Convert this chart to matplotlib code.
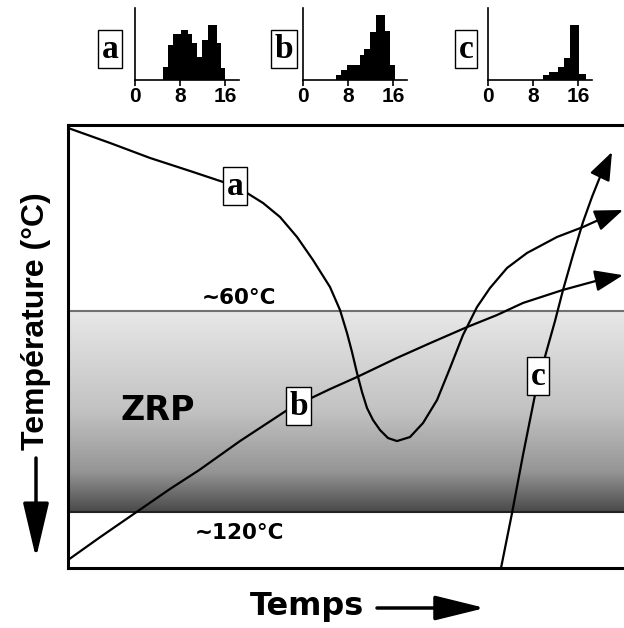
import numpy as np
import matplotlib.pyplot as plt
from matplotlib.colors import LinearSegmentedColormap
from matplotlib.patches import FancyArrowPatch

# histograms above the chart (bin edges and bar heights)
hist_a_edges = [5.0, 5.8, 6.8, 8.1, 9.5, 10.2, 11.1, 12.0, 13.0, 14.5, 15.3, 16.0]
hist_a_counts = [4.0, 10.5, 13.7, 15.0, 13.7, 11.0, 7.0, 12.0, 16.5, 11.0, 3.5]
hist_b_edges = [5.8, 6.8, 7.8, 10.1, 10.9, 12.0, 12.9, 14.5, 15.4, 16.3]
hist_b_counts = [1.5, 3.0, 4.5, 7.5, 9.2, 14.2, 19.5, 14.5, 4.5]
hist_c_edges = [9.8, 10.9, 12.4, 13.6, 14.5, 16.2, 17.5]
hist_c_counts = [1.5, 2.5, 4.0, 6.5, 16.5, 1.8]
hist_ticks = [0, 8, 16]

# temperature paths (time, temperature degC)
path_a_t = [0, 7.55, 14.75, 21.94, 27.88, 32.19, 35.07, 38.13, 41.19, 44.06, 47.12,
            48.92, 50.18, 51.08, 51.98, 52.88, 53.78, 54.86, 56.12, 57.55, 59.17,
            61.51, 63.85, 66.37, 68.71, 71.04, 73.56, 75.90, 78.96, 82.55, 87.95,
            92.63, 96.22, 99.82]
path_a_T = [5.37, 9.85, 14.33, 18.21, 21.49, 24.78, 27.76, 31.94, 37.91, 44.78, 52.84,
            59.70, 66.57, 72.24, 78.51, 84.18, 88.96, 92.54, 95.52, 97.91, 98.81,
            97.61, 93.43, 86.57, 77.01, 67.16, 58.81, 53.13, 47.16, 42.69, 37.91,
            34.93, 32.24, 29.85]
path_b_t = [0, 5.76, 12.05, 18.35, 23.56, 30.94, 39.39, 43.71, 47.12, 51.98, 59.17,
            65.11, 71.76, 77.16, 81.83, 89.03, 95.68, 99.82]
path_b_T = [134.3, 127.5, 120.3, 113.1, 107.5, 98.8, 89.6, 86.0, 83.3, 79.7, 74.0,
            69.6, 64.8, 61.2, 57.6, 53.7, 50.7, 49.3]
path_c_t = [77.88, 79.86, 81.83, 83.99, 85.97, 87.59, 89.03, 90.83, 92.63, 94.24,
            95.68, 97.84]
path_c_T = [136.7, 120.3, 102.99, 85.07, 72.54, 62.99, 53.73, 43.28, 33.43, 25.97,
            20.0, 12.54]

# label positions on the paths
label_names = ['a', 'b', 'c']
label_t = [30.0, 41.5, 84.5]
label_T = [22.7, 88.4, 79.4]

zone_top = 60
zone_bottom = 120

fig = plt.figure(figsize=(6.24, 6.28), dpi=100)
ax = fig.add_axes([0.109, 0.0955, 0.891, 0.7054])
ax.set_xlim(0, 100)
ax.set_ylim(136.7, 4.5)
ax.set_xticks([])
ax.set_yticks([])
ax.spines['right'].set_visible(False)
for s in ['left', 'top', 'bottom']:
    ax.spines[s].set_linewidth(2.2)

# shaded ZRP band
cmap = LinearSegmentedColormap.from_list('zrp', [(0, '#e8e8e8'), (0.5, '#c2c2c2'),
                                                 (0.8, '#959595'), (1.0, '#4a4a4a')])
grad = np.linspace(0, 1, 256).reshape(-1, 1)
ax.imshow(grad, extent=(0, 100, zone_bottom, zone_top), aspect='auto', cmap=cmap, zorder=0)
ax.axhline(zone_top, color='#707070', lw=1.5, zorder=1)
ax.axhline(zone_bottom, color='#222222', lw=1.5, zorder=1)

ax.text(30.8, 56.1, '~60°C', ha='center', va='center', fontsize=15.5,
        fontweight='bold', family='DejaVu Sans')
ax.text(30.9, 126.3, '~120°C', ha='center', va='center', fontsize=15.5,
        fontweight='bold', family='DejaVu Sans')
ax.text(16.2, 89.6, 'ZRP', ha='center', va='center', fontsize=24,
        fontweight='bold', family='DejaVu Sans')

# paths with arrowheads
for tt, TT in [(path_a_t, path_a_T), (path_b_t, path_b_T), (path_c_t, path_c_T)]:
    ax.plot(tt[:-1], TT[:-1], color='black', lw=1.6, zorder=3,
            solid_joinstyle='round', solid_capstyle='round')
    ax.annotate('', xy=(tt[-1], TT[-1]), xytext=(tt[-2], TT[-2]),
                arrowprops=dict(arrowstyle='-|>,head_length=0.58,head_width=0.22',
                                color='black', lw=1.6, shrinkA=0, shrinkB=0,
                                mutation_scale=30),
                annotation_clip=False, zorder=4)

for name, t, T in zip(label_names, label_t, label_T):
    ax.text(t, T, name, ha='center', va='center', fontsize=24, fontweight='bold',
            family='Liberation Serif', zorder=5,
            bbox=dict(boxstyle='square,pad=0.1', fc='white', ec='black', lw=1))

# axis titles with arrows
fig.text(36.5 / 624, 1 - 321 / 628, 'Température (°C)', rotation=90, ha='center',
         va='center', fontsize=23, fontweight='bold', family='Liberation Sans')
fig.text(307 / 624, 1 - 606 / 628, 'Temps', ha='center', va='center', fontsize=23,
         fontweight='bold', family='DejaVu Sans')
fig.patches.append(FancyArrowPatch(
    (36 / 624, 1 - 458 / 628), (36 / 624, 1 - 558 / 628), transform=fig.transFigure,
    arrowstyle='-|>,head_length=0.85,head_width=0.2', mutation_scale=40,
    color='black', lw=2.5, shrinkA=0, shrinkB=0))
fig.patches.append(FancyArrowPatch(
    (377 / 624, 1 - 608 / 628), (485 / 624, 1 - 608 / 628), transform=fig.transFigure,
    arrowstyle='-|>,head_length=0.77,head_width=0.19', mutation_scale=40,
    color='black', lw=2.5, shrinkA=0, shrinkB=0))

# small histograms
insets = [
    (135, hist_a_edges, hist_a_counts, 'a', 110),
    (303, hist_b_edges, hist_b_counts, 'b', 284),
    (488, hist_c_edges, hist_c_counts, 'c', 466),
]
for left, edges, counts, name, lx in insets:
    hx = fig.add_axes([left / 624, 1 - 80 / 628, 104 / 624, 72 / 628])
    hx.stairs(counts, edges, fill=True, color='black')
    hx.set_xlim(0, 18.5)
    hx.set_ylim(0, 21.5)
    hx.set_yticks([])
    hx.set_xticks(hist_ticks)
    hx.set_xticklabels([str(v) for v in hist_ticks], fontsize=15, fontweight='bold',
                       family='Liberation Sans')
    hx.tick_params(axis='x', length=4, width=1.2, pad=1)
    hx.spines['right'].set_visible(False)
    hx.spines['top'].set_visible(False)
    hx.spines['left'].set_linewidth(1.2)
    hx.spines['bottom'].set_linewidth(1.2)
    hx.patch.set_alpha(0)
    fig.text(lx / 624, 1 - 49 / 628, name, ha='center', va='center', fontsize=24,
             fontweight='bold', family='Liberation Serif',
             bbox=dict(boxstyle='square,pad=0.1', fc='white', ec='black', lw=1))

fig.savefig('out.png', dpi=100)
